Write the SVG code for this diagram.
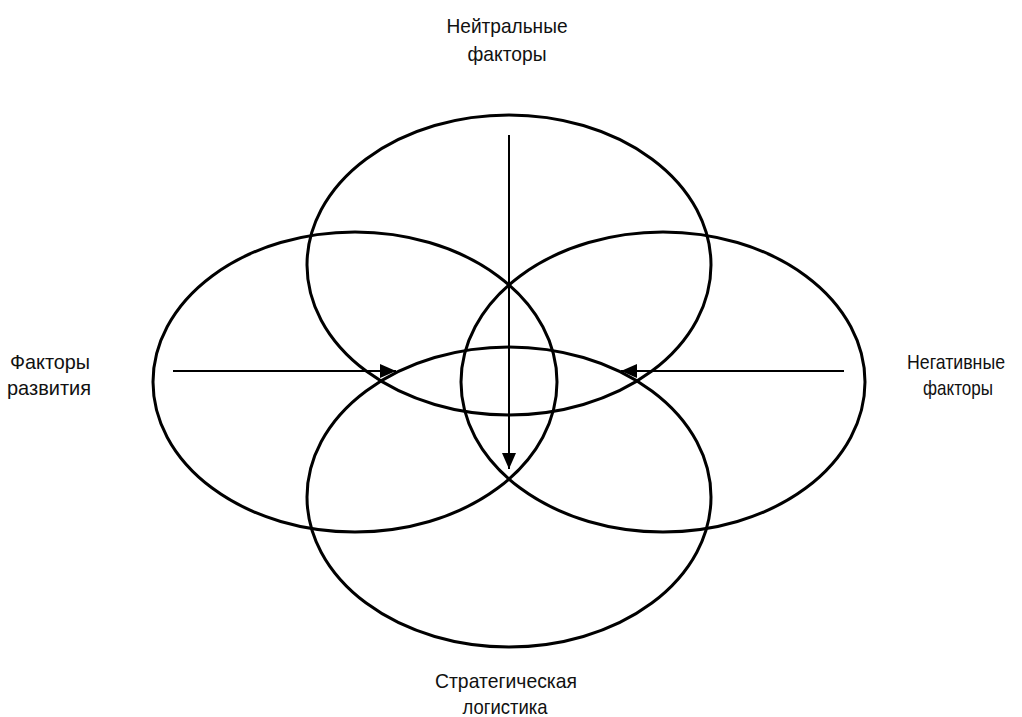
<svg xmlns="http://www.w3.org/2000/svg" width="1022" height="717" viewBox="0 0 1022 717">
<style>
.e{fill:none;stroke:#000;stroke-width:3}
.c{stroke:#000;stroke-width:2;fill:none}
text{font-family:"Liberation Sans",Arial,sans-serif;font-size:21px;fill:#111;text-anchor:middle}
</style>
<defs>
<marker id="a" viewBox="0 0 16 14" refX="16" refY="7" markerWidth="16" markerHeight="14" markerUnits="userSpaceOnUse" orient="auto">
<path d="M0,0 L16,7 L0,14 Z" fill="#000"/>
</marker>
</defs>
<rect width="1022" height="717" fill="#fff"/>
<g id="top"><ellipse class="e" cx="509" cy="265" rx="202" ry="150"/></g>
<g id="left"><ellipse class="e" cx="355" cy="382" rx="202" ry="150"/></g>
<g id="right"><ellipse class="e" cx="663" cy="382" rx="202" ry="150"/></g>
<g id="bottom"><ellipse class="e" cx="509" cy="497" rx="202" ry="150"/></g>
<g id="connectors">
<line class="c" x1="509" y1="135" x2="509" y2="469" marker-end="url(#a)"/>
<line class="c" x1="173" y1="371" x2="396" y2="371" marker-end="url(#a)"/>
<line class="c" x1="844" y1="371" x2="621" y2="371" marker-end="url(#a)" stroke-width="3"/>
</g>
<g id="label-top"><text x="507" y="33" textLength="121" lengthAdjust="spacingAndGlyphs">Нейтральные</text><text x="507" y="61" textLength="79" lengthAdjust="spacingAndGlyphs">факторы</text></g>
<g id="label-left"><text x="50" y="369" textLength="80" lengthAdjust="spacingAndGlyphs">Факторы</text><text x="49" y="395" textLength="84" lengthAdjust="spacingAndGlyphs">развития</text></g>
<g id="label-right"><text x="956" y="369" font-size="20" textLength="98" lengthAdjust="spacingAndGlyphs">Негативные</text><text x="958" y="395" textLength="70" lengthAdjust="spacingAndGlyphs">факторы</text></g>
<g id="label-bottom"><text x="506" y="688" textLength="142" lengthAdjust="spacingAndGlyphs">Стратегическая</text><text x="505" y="714" textLength="85" lengthAdjust="spacingAndGlyphs">логистика</text></g>
</svg>
